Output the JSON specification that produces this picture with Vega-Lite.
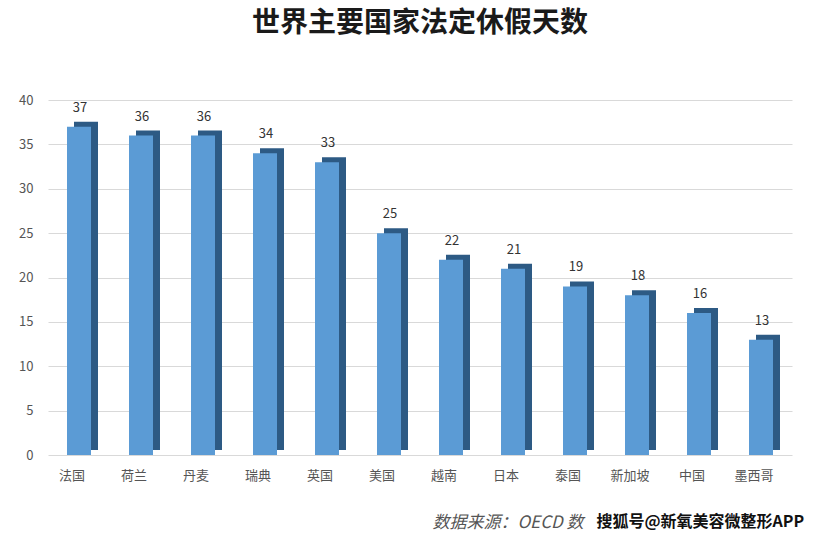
{
  "$schema": "https://vega.github.io/schema/vega-lite/v6.json",
  "width": 744,
  "height": 355,
  "autosize": "none",
  "padding": {"left": 48, "top": 100, "right": 30, "bottom": 86},
  "background": "white",
  "title": {
    "text": "世界主要国家法定休假天数",
    "fontSize": 28,
    "fontWeight": "bold",
    "font": "Noto Sans CJK SC",
    "color": "#1a1a1a",
    "anchor": "middle",
    "offset": 56
  },
  "data": {
    "values": [
      {"country": "法国", "days": 37},
      {"country": "荷兰", "days": 36},
      {"country": "丹麦", "days": 36},
      {"country": "瑞典", "days": 34},
      {"country": "英国", "days": 33},
      {"country": "美国", "days": 25},
      {"country": "越南", "days": 22},
      {"country": "日本", "days": 21},
      {"country": "泰国", "days": 19},
      {"country": "新加坡", "days": 18},
      {"country": "中国", "days": 16},
      {"country": "墨西哥", "days": 13}
    ]
  },
  "config": {
    "view": {"stroke": null},
    "font": "Noto Sans CJK SC"
  },
  "encoding": {
    "x": {
      "field": "country",
      "type": "nominal",
      "sort": null,
      "scale": {"paddingInner": 0.6, "paddingOuter": 0.3},
      "axis": {
        "title": "数据来源：OECD 数",
        "titleFontStyle": "italic",
        "titleFontSize": 17,
        "titleFontWeight": "normal",
        "titleColor": "#555555",
        "titleAlign": "left",
        "titleAnchor": null,
        "titleX": 384,
        "titleY": 67,
        "titleBaseline": "middle",
        "labelAngle": 0,
        "labelOffset": -7,
        "labelPadding": 14,
        "labelFontSize": 13,
        "labelColor": "#555555",
        "ticks": false,
        "domain": false,
        "grid": false
      }
    },
    "y": {
      "field": "days",
      "type": "quantitative",
      "scale": {"domain": [0, 40]},
      "axis": {
        "values": [0, 5, 10, 15, 20, 25, 30, 35, 40],
        "title": "搜狐号@新氧美容微整形APP",
        "titleAngle": 0,
        "titleX": 548,
        "titleY": 421,
        "titleAlign": "left",
        "titleBaseline": "middle",
        "titleFontSize": 16,
        "titleFontWeight": "bold",
        "titleColor": "#111111",
        "labelFontSize": 13,
        "labelColor": "#555555",
        "labelPadding": 15,
        "ticks": false,
        "domain": false,
        "gridColor": "#d9d9d9",
        "gridWidth": 1
      }
    }
  },
  "layer": [
    {
      "mark": {"type": "bar", "width": 24, "xOffset": 7, "yOffset": -5, "color": "#2d5a84"}
    },
    {
      "mark": {"type": "bar", "width": 24, "color": "#5b9bd5"}
    },
    {
      "mark": {"type": "text", "dy": -19, "dx": 1, "fontSize": 13, "color": "#333333"},
      "encoding": {"text": {"field": "days", "type": "quantitative"}}
    }
  ]
}
